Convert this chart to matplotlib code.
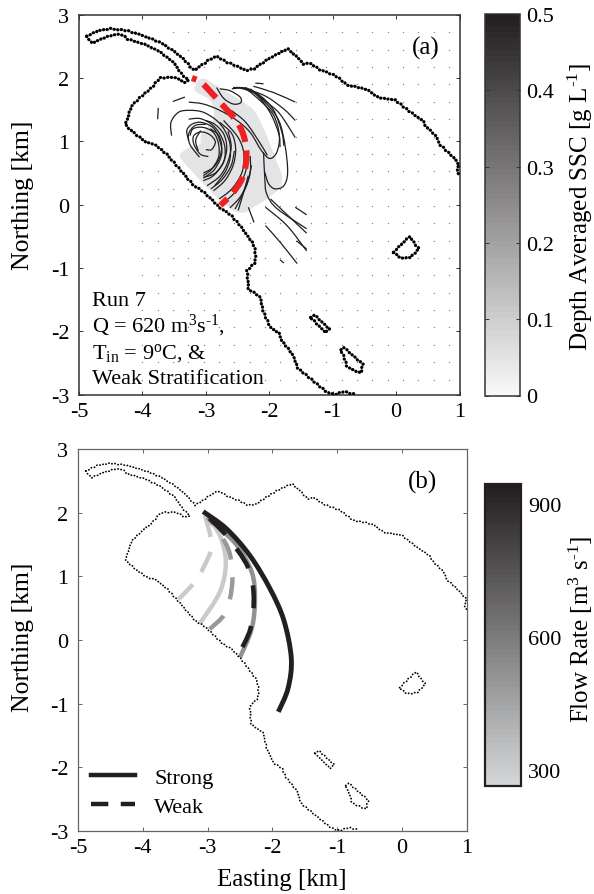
import numpy as np
import matplotlib
matplotlib.use("Agg")
import matplotlib.pyplot as plt
from matplotlib.path import Path
from matplotlib.patches import PathPatch
from matplotlib.colors import LinearSegmentedColormap, Normalize
from matplotlib.cm import ScalarMappable
from matplotlib.lines import Line2D

plt.rcParams["font.family"] = ["Liberation Serif", "DejaVu Serif"]
plt.rcParams["mathtext.fontset"] = "custom"
plt.rcParams["mathtext.rm"] = "Liberation Serif"
plt.rcParams["mathtext.it"] = "Liberation Serif"
plt.rcParams["axes.unicode_minus"] = False
plt.rcParams["font.size"] = 16

# shoreline, km
coast_top_x = [-4.88, -4.69, -4.51, -4.25, -3.98, -3.72, -3.51, -3.35, -3.19, -3.04, -2.93, -2.83, -2.67, -2.51,
               -2.38, -2.25, -2.09, -1.93, -1.70, -1.56, -1.46, -1.36, -1.22, -0.96, -0.75, -0.57, -0.44, -0.28,
               -0.01, 0.20, 0.43, 0.46, 0.65, 0.67, 0.88, 0.99, 0.96, 1.0]
coast_top_y = [2.66, 2.75, 2.78, 2.75, 2.67, 2.56, 2.43, 2.30, 2.12, 2.22, 2.30, 2.34, 2.25, 2.19,
               2.12, 2.14, 2.25, 2.35, 2.46, 2.33, 2.22, 2.24, 2.14, 2.04, 1.88, 1.85, 1.81, 1.69,
               1.65, 1.48, 1.32, 1.25, 1.06, 0.97, 0.77, 0.64, 0.54, 0.47]
coast_low_x = [-4.88, -4.80, -4.62, -4.43, -4.30, -4.25, -3.98, -3.72, -3.51, -3.38, -3.27, -3.35, -3.48, -3.62,
               -3.73, -3.85, -4.04, -4.17, -4.22, -4.27, -4.12, -3.93, -3.80, -3.62, -3.41, -3.19, -3.04, -2.77,
               -2.62, -2.46, -2.25, -2.22, -2.22, -2.35, -2.33, -2.14, -2.09, -1.98, -1.85, -1.80, -1.62, -1.56,
               -1.25, -1.09, -0.96, -0.83, -0.67]
coast_low_y = [2.66, 2.55, 2.63, 2.69, 2.68, 2.62, 2.54, 2.41, 2.25, 2.06, 1.96, 1.93, 2.01, 2.01,
               2.00, 1.85, 1.69, 1.56, 1.41, 1.26, 1.12, 0.98, 0.95, 0.80, 0.56, 0.30, 0.21, -0.06,
               -0.15, -0.33, -0.62, -0.73, -0.91, -1.04, -1.33, -1.46, -1.70, -1.94, -2.02, -2.15, -2.38, -2.57,
               -2.83, -2.96, -3.0, -2.95, -2.99]
isle1_x = [-0.04, 0.21, 0.36, 0.23, 0.07, -0.04]
isle1_y = [-0.75, -0.50, -0.70, -0.83, -0.85, -0.75]
isle2_x = [-1.35, -1.29, -1.05, -1.11, -1.35]
isle2_y = [-1.78, -1.74, -1.96, -2.02, -1.78]
isle3_x = [-0.87, -0.83, -0.52, -0.56, -0.77, -0.82, -0.87]
isle3_y = [-2.29, -2.25, -2.52, -2.66, -2.57, -2.41, -2.29]

# model grid points
grid_x = np.arange(-4.0, 0.95, 0.2417)
grid_y = np.arange(2.72, -3.0, -0.274)
nodots_x = [-4.6, -3.85, -3.4, -1.6, -1.6, -2.6, -3.4, -4.1, -4.6]
nodots_y = [2.95, 2.95, 2.1, 2.2, 0.4, -0.1, 0.45, 1.0, 1.3]

# suspended sediment patch
blob_x = [-3.12, -3.01, -2.88, -2.70, -2.41, -2.22, -2.04, -1.88, -1.80, -1.83, -2.04, -2.25, -2.38, -2.57,
          -2.88, -3.25, -3.41, -3.25, -3.09, -3.07, -2.88, -2.93, -3.17, -3.12]
blob_y = [1.96, 1.985, 1.91, 1.80, 1.62, 1.46, 1.09, 0.67, 0.46, 0.27, 0.09, -0.04, -0.12, -0.09,
          0.17, 0.56, 0.77, 0.91, 0.96, 1.12, 1.35, 1.64, 1.80, 1.96]

# streamlines
stream_x = [
    [-3.54, -3.55, -3.43, -3.25, -3.04, -2.83, -2.70, -2.62, -2.62, -2.70, -2.86],
    [-3.27, -3.09, -2.91, -2.78, -2.70, -2.72, -2.88, -3.04],
    [-3.27, -3.30, -3.22, -3.07, -2.88, -2.78, -2.75, -2.86, -3.04],
    [-3.25, -3.20, -3.04, -2.88, -2.80, -2.80, -2.91, -3.04],
    [-2.96, -3.09, -3.19, -3.19, -3.07, -2.93, -2.85, -2.91, -3.00],
    [-2.78, -2.59, -2.53, -2.57, -2.70, -2.88],
    [-2.72, -2.49, -2.40, -2.43, -2.59, -2.79],
    [-2.30, -2.30, -2.38, -2.54],
    [-2.33, -2.42, -2.49],
    [-2.78, -2.62, -2.46, -2.45, -2.57, -2.72, -2.83],
    [-3.27, -3.04, -2.78, -2.51, -2.30, -2.12, -1.99, -1.88, -1.84, -1.93, -2.14, -2.38, -2.57],
    [-2.59, -2.33, -2.07, -1.85, -1.75, -1.71, -1.77, -1.91, -2.01, -2.07],
    [-2.09, -2.07, -2.04, -1.88, -1.41],
    [-2.49, -2.22, -1.99, -1.85, -1.83],
    [-2.38, -2.14, -1.93, -1.80, -1.77],
    [-2.25, -1.93, -1.59],
    [-2.22, -2.09],
    [-2.30, -2.04, -1.83, -1.59],
    [-2.43, -2.07, -1.77, -1.59],
    [-3.52, -3.33],
    [-3.76, -3.75],
    [-1.98, -1.41],
    [-1.59, -1.41],
    [-2.06, -1.72, -1.41],
    [-2.06, -1.83, -1.56],
    [-1.57, -1.41],
    [-1.83, -1.77],
    [-2.33, -2.24],
    [-3.04, -2.88, -2.78, -2.75, -2.80, -2.93],
    [-3.04, -2.85, -2.72, -2.67, -2.72, -2.86, -3.00],
    [-2.98, -2.78, -2.66, -2.60, -2.65],
    [-2.92, -2.74, -2.60, -2.55],
    [-2.72, -2.52, -2.38, -2.35],
    [-2.62, -2.46, -2.34, -2.28],
    [-3.10, -3.25, -3.27, -3.17, -3.00],
    [-3.12, -3.16, -3.08],
    [-2.60, -2.37, -2.15, -2.03],
]
stream_y = [
    [1.09, 1.30, 1.46, 1.49, 1.46, 1.33, 1.17, 0.96, 0.72, 0.51, 0.30],
    [1.35, 1.36, 1.27, 1.12, 0.91, 0.67, 0.46, 0.38],
    [1.01, 1.17, 1.27, 1.30, 1.21, 1.01, 0.80, 0.56, 0.42],
    [1.09, 1.20, 1.22, 1.14, 0.96, 0.75, 0.56, 0.46],
    [0.76, 0.80, 0.96, 1.09, 1.15, 1.10, 0.99, 0.87, 0.87],
    [1.30, 1.12, 0.88, 0.62, 0.38, 0.22],
    [1.33, 1.06, 0.80, 0.51, 0.25, 0.09],
    [0.77, 0.51, 0.25, -0.07],
    [0.46, 0.14, -0.09],
    [1.83, 1.80, 1.70, 1.61, 1.59, 1.68, 1.85],
    [1.62, 1.59, 1.49, 1.33, 1.14, 0.85, 0.73, 0.83, 1.09, 1.41, 1.64, 1.83, 1.85],
    [1.83, 1.83, 1.62, 1.33, 0.93, 0.51, 0.30, 0.25, 0.33, 0.51],
    [0.83, 0.41, 0.17, -0.06, -0.38],
    [1.85, 1.75, 1.46, 1.12, 0.91],
    [1.85, 1.72, 1.49, 1.14, 0.93],
    [1.87, 1.77, 1.62],
    [1.92, 1.91],
    [1.83, 1.62, 1.43, 1.06],
    [1.85, 1.72, 1.51, 1.33],
    [1.63, 1.70],
    [1.35, 1.53],
    [0.09, -0.45],
    [-0.04, -0.16],
    [-0.04, -0.33, -0.73],
    [-0.33, -0.59, -0.93],
    [-0.57, -0.70],
    [-0.87, -0.92],
    [-0.04, -0.28],
    [0.50, 0.59, 0.75, 0.93, 1.10, 1.20],
    [0.43, 0.50, 0.68, 0.90, 1.12, 1.27, 1.33],
    [0.30, 0.45, 0.66, 0.92, 1.16],
    [0.25, 0.40, 0.62, 0.85],
    [0.03, 0.22, 0.50, 0.72],
    [-0.05, 0.12, 0.36, 0.62],
    [0.75, 0.95, 1.12, 1.25, 1.27],
    [0.85, 1.02, 1.17],
    [1.49, 1.30, 0.98, 0.78],
]

# plume path in panel (a)
red_x = [-3.22, -3.06, -2.77, -2.51, -2.39, -2.36, -2.43, -2.59, -2.77]
red_y = [2.00, 1.92, 1.61, 1.31, 1.04, 0.72, 0.41, 0.17, -0.01]

# plume paths in panel (b)
black_x = [-3.07, -2.71, -2.35, -2.04, -1.825, -1.71, -1.76, -1.91]
black_y = [2.02, 1.75, 1.33, 0.81, 0.31, -0.29, -0.76, -1.13]
mid_x = [-3.0, -2.86, -2.55, -2.32, -2.27, -2.32, -2.50]
mid_y = [1.93, 1.80, 1.49, 1.07, 0.65, 0.18, -0.27]
black_dash_x = [-3.04, -2.71, -2.38, -2.29, -2.34, -2.53]
black_dash_y = [1.98, 1.64, 1.15, 0.70, 0.18, -0.24]
mid_dash_x = [-3.0, -2.81, -2.66, -2.62, -2.72, -2.97]
mid_dash_y = [1.93, 1.67, 1.36, 0.91, 0.44, 0.17]
light_x = [-3.0, -2.81, -2.72, -2.81, -3.12]
light_y = [1.93, 1.64, 1.23, 0.76, 0.26]
light_dash_x = [-3.04, -2.94, -3.06, -3.21, -3.45]
light_dash_y = [1.96, 1.49, 1.15, 0.90, 0.64]

xticks = [-5, -4, -3, -2, -1, 0, 1]
yticks = [-3, -2, -1, 0, 1, 2, 3]
ssc_ticks = [0, 0.1, 0.2, 0.3, 0.4, 0.5]
ssc_labels = ["0", "0.1", "0.2", "0.3", "0.4", "0.5"]
flow_ticks = [300, 600, 900]

W, H = 594.0, 895.0
def place(left, top, right, bottom):
    return [left / W, 1 - bottom / H, (right - left) / W, (bottom - top) / H]


def smooth(x, y):
    # cubic segments that pass through every read point
    pts = np.column_stack([x, y])
    if len(pts) == 2:
        return Path(pts, [Path.MOVETO, Path.LINETO])
    closed = np.allclose(pts[0], pts[-1])
    verts = [pts[0]]
    codes = [Path.MOVETO]
    n = len(pts)
    for i in range(n - 1):
        before = pts[i - 1] if i > 0 else (pts[-2] if closed else pts[0])
        after = pts[i + 2] if i + 2 < n else (pts[1] if closed else pts[-1])
        verts += [pts[i] + (pts[i + 1] - before) / 6, pts[i + 1] - (after - pts[i]) / 6, pts[i + 1]]
        codes += [Path.CURVE4] * 3
    return Path(verts, codes)


def curve(ax, x, y, color, lw, ls="-", z=3):
    ax.add_patch(PathPatch(smooth(x, y), fill=False, edgecolor=color, lw=lw, linestyle=ls,
                           capstyle="butt", zorder=z))


def shoreline(ax, lw, dots):
    style = dict(color="k", lw=lw, linestyle=(0, dots), dash_capstyle="round", dash_joinstyle="round", zorder=5)
    lines = ax.plot(coast_top_x, coast_top_y, **style)
    lines += ax.plot(coast_low_x, coast_low_y, **style)
    for xs, ys in [(isle1_x, isle1_y), (isle2_x, isle2_y), (isle3_x, isle3_y)]:
        lines += ax.plot(xs, ys, **style)
    for ln in lines:
        ln.set_sketch_params(0.5, 7, 2)


def frame(ax, spine_color, spine_lw):
    ax.set_xlim(-5, 1)
    ax.set_ylim(-3, 3)
    ax.set_xticks(xticks)
    ax.set_yticks(yticks)
    ax.tick_params(direction="in", top=True, right=True, length=3, width=0.7, color=spine_color, pad=5)
    ax.tick_params(axis="y", pad=7)
    for s in ax.spines.values():
        s.set_color(spine_color)
        s.set_linewidth(spine_lw)


fig = plt.figure(figsize=(5.94, 8.95), dpi=100)

# panel (a)
ax1 = fig.add_axes(place(79, 15.7, 459.5, 395.7))
frame(ax1, "#333333", 1.1)
gx, gy = np.meshgrid(grid_x, grid_y)
grid_pts = np.column_stack([gx.ravel(), gy.ravel()])
keep = ~Path(np.column_stack([nodots_x, nodots_y])).contains_points(grid_pts)
ax1.scatter(grid_pts[keep, 0], grid_pts[keep, 1], s=1.0, color="#8a8a8a", linewidths=0, zorder=1)
ax1.add_patch(PathPatch(smooth(blob_x, blob_y), facecolor="#e3e4e5", edgecolor="none", zorder=2))
for xs, ys in zip(stream_x, stream_y):
    curve(ax1, xs, ys, "#231f20", 0.9)
curve(ax1, red_x, red_y, "#ee2024", 4.4, ls=(2.2, (3.0, 1.4)), z=4)
shoreline(ax1, 2.3, (0.1, 1.1))
ax1.set_ylabel("Northing [km]", fontsize=18.5)
ax1.yaxis.set_label_coords(-0.118, 0.528)
ax1.text(0.25, 2.38, "(a)", fontsize=18)
ax1.text(-4.79, -1.58, "Run 7")
ax1.text(-4.79, -2.0, "Q = 620 m$^{3}$s$^{\\text{-}1}$,")
ax1.text(-4.79, -2.41, "T$_{\\mathrm{in}}$ = 9$^{\\mathrm{o}}$C, &")
ax1.text(-4.79, -2.82, "Weak Stratification")

cmap_ssc = LinearSegmentedColormap.from_list("ssc", ["#f8f8f8", "#231f20"], N=64)
cax1 = fig.add_axes(place(485, 15, 520.3, 396.5))
cb1 = fig.colorbar(ScalarMappable(Normalize(0, 0.5), cmap_ssc), cax=cax1)
cb1.set_ticks(ssc_ticks)
cb1.set_ticklabels(ssc_labels)
cax1.tick_params(direction="in", left=True, right=True, length=3, width=0.7, color="#333333", pad=4)
cb1.outline.set_edgecolor("#333333")
cb1.outline.set_linewidth(1.1)
fig.text(580 / W, 1 - 207 / H, "Depth Averaged SSC [g L$^{\\text{-}1}$]", rotation=90, ha="center", va="center", fontsize=18)

# panel (b)
ax2 = fig.add_axes(place(78, 450.3, 467, 831.7))
frame(ax2, "#666666", 0.9)
shoreline(ax2, 1.3, (0.1, 1.7))
curve(ax2, light_x, light_y, "#c8cacc", 3.2)
curve(ax2, light_dash_x, light_dash_y, "#c8cacc", 3.2, ls=(0, (5.0, 3.4)))
curve(ax2, mid_x, mid_y, "#8f9193", 3.2)
curve(ax2, mid_dash_x, mid_dash_y, "#98999b", 3.2, ls=(3, (5.0, 4.0)))
curve(ax2, black_x, black_y, "#231f20", 3.5, z=4)
curve(ax2, black_dash_x, black_dash_y, "#231f20", 3.3, ls=(7.6, (5.0, 3.9)), z=4)
ax2.set_xlabel("Easting [km]", fontsize=18)
ax2.xaxis.set_label_coords(0.525, -0.098)
ax2.set_ylabel("Northing [km]", fontsize=18.5)
ax2.yaxis.set_label_coords(-0.113, 0.51)
ax2.text(0.085, 2.39, "(b)", fontsize=18)
handles = [Line2D([], [], color="#231f20", lw=3.2),
           Line2D([], [], color="#231f20", lw=3.2, linestyle=(0, (3.9, 2.8)))]
ax2.legend(handles, ["Strong", "Weak"], loc="lower left", bbox_to_anchor=(0.033, 0.036), frameon=False, fontsize=16,
           handlelength=2.0, handletextpad=0.85, labelspacing=0.4, borderaxespad=0, borderpad=0)

cmap_flow = LinearSegmentedColormap.from_list("flow", ["#d3d5d6", "#231f20"], N=64)
cax2 = fig.add_axes(place(484.5, 485, 521, 786.5))
cb2 = fig.colorbar(ScalarMappable(Normalize(265, 945), cmap_flow), cax=cax2)
cb2.set_ticks(flow_ticks)
cax2.tick_params(length=0, pad=5)
cb2.outline.set_edgecolor("#231f20")
cb2.outline.set_linewidth(1.6)
fig.text(581 / W, 1 - 630 / H, "Flow Rate [m$^{3}$ s$^{\\text{-}1}$]", rotation=90, ha="center", va="center", fontsize=18)

fig.savefig("out.png", dpi=100)
